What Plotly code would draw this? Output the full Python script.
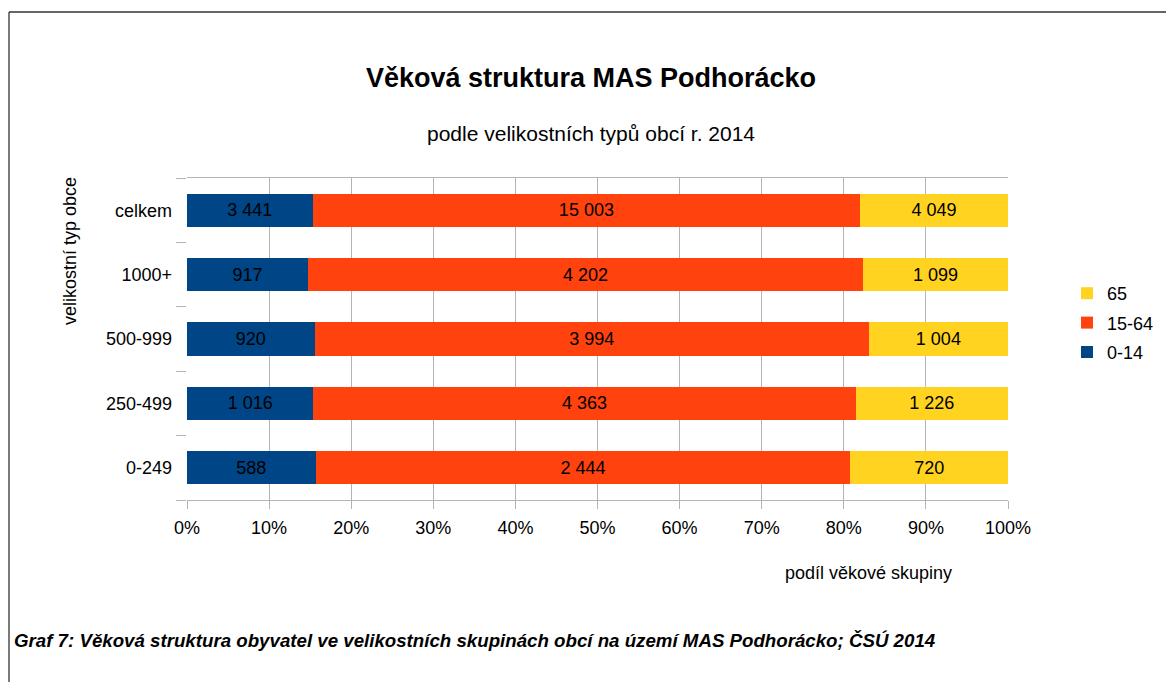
import plotly.graph_objects as go

categories = ["0-249", "250-499", "500-999", "1000+", "celkem"]
age_0_14 = [588, 1016, 920, 917, 3441]
age_15_64 = [2444, 4363, 3994, 4202, 15003]
age_65 = [720, 1226, 1004, 1099, 4049]
series_names = ["0-14", "15-64", "65"]
colors = ["#004586", "#ff420e", "#ffd320"]
x_ticks = [0, 10, 20, 30, 40, 50, 60, 70, 80, 90, 100]
x_tick_labels = [f"{v}%" for v in x_ticks]

OFF = 8  # page body margin
W, H = 1174 - OFF, 682 - OFF
# plot area in screen pixels
SL, SR, ST, SB = 187, 1008, 178, 500
L, R, T, B = SL - OFF, SR - OFF, ST - OFF, SB - OFF
pw, ph = R - L, B - T


def px(x):  # screen x -> paper
    return (x - OFF - L) / pw


def py(y):  # screen y -> paper
    return (B - (y - OFF)) / ph


def fmt(v):
    return f"{v:,}".replace(",", " ")


FONT = "Liberation Sans, Arial, sans-serif"

fig = go.Figure()
for i, (name, vals, col) in enumerate(zip(series_names, [age_0_14, age_15_64, age_65], colors)):
    fig.add_trace(go.Bar(
        y=categories, x=vals, name=name, orientation="h", legendgroup=name,
        legendrank=1000 - i,
        marker=dict(color=col, line=dict(width=0)),
        text=[fmt(v) for v in vals], textposition="inside",
        insidetextanchor="middle", textangle=0,
        textfont=dict(color="black", size=18, family=FONT),
        hoverinfo="skip",
    ))

fig.update_layout(
    width=W, height=H,
    margin=dict(l=L, r=W - R, t=T, b=H - B, pad=0),
    barmode="stack", barnorm="percent", bargap=0.487,
    plot_bgcolor="white", paper_bgcolor="white",
    font=dict(family=FONT, size=18, color="black"),
    showlegend=True,
    legend=dict(x=px(1067), y=py(323), xanchor="left", yanchor="middle",
                traceorder="grouped", tracegroupgap=3, font=dict(size=18),
                bgcolor="rgba(0,0,0,0)", itemwidth=30),
    title=dict(text="<b>Věková struktura MAS Podhorácko</b>", xref="container",
               x=(591 - OFF) / W, y=1 - (78 - OFF) / H, xanchor="center", yanchor="middle",
               font=dict(size=27, family=FONT, color="black")),
    xaxis=dict(range=[0, 100], tickvals=x_ticks, ticktext=x_tick_labels,
               showgrid=True, gridcolor="#b3b3b3", gridwidth=1,
               ticks="outside", ticklen=8, tickcolor="#b3b3b3",
               showline=True, linecolor="#b3b3b3", mirror=True,
               zeroline=False, tickfont=dict(size=18), ticklabelstandoff=3),
    yaxis=dict(categoryorder="array", categoryarray=categories,
               ticks="outside", tickson="boundaries", ticklen=10, tickcolor="#b3b3b3",
               showgrid=False, showline=False, zeroline=False, tickfont=dict(size=18),
               ticklabelstandoff=14),
    annotations=[
        dict(text="podle velikostních typů obcí r. 2014", xref="paper", yref="paper",
             x=px(591), y=py(134), xanchor="center", yanchor="middle",
             showarrow=False, font=dict(size=21)),
        dict(text="velikostní typ obce", xref="paper", yref="paper",
             x=px(70), y=py(251), xanchor="center", yanchor="middle", textangle=-90,
             showarrow=False, font=dict(size=18)),
        dict(text="podíl věkové skupiny", xref="paper", yref="paper",
             x=px(868), y=py(573), xanchor="center", yanchor="middle",
             showarrow=False, font=dict(size=18)),
        dict(text="<b><i>Graf 7: Věková struktura obyvatel ve velikostních skupinách obcí na území MAS Podhorácko; ČSÚ 2014</i></b>",
             xref="paper", yref="paper", x=px(12), y=py(640), xanchor="left", yanchor="middle",
             showarrow=False,
             font=dict(size=18.7, family=FONT)),
    ],
    shapes=[
        dict(type="line", xref="paper", yref="paper", x0=px(9), x1=px(9), y0=py(12), y1=py(690),
             line=dict(color="#333333", width=1.3)),
        dict(type="line", xref="paper", yref="paper", x0=px(9), x1=px(1180), y0=py(12), y1=py(12),
             line=dict(color="#333333", width=1.3)),
    ],
)

fig.write_html("out.html")
